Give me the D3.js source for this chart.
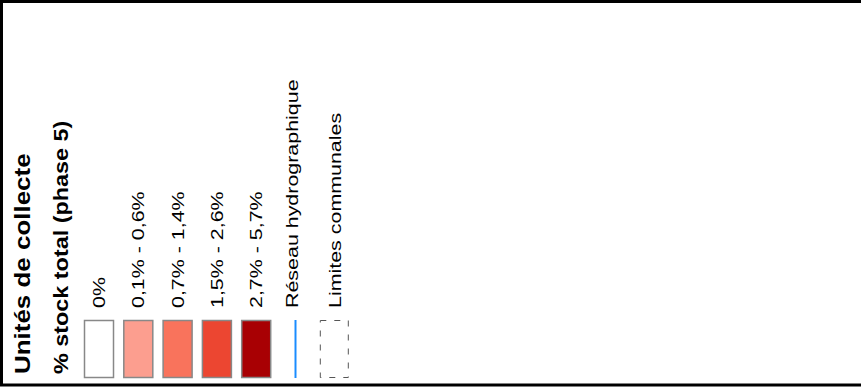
<!DOCTYPE html>
<html><head><meta charset="utf-8">
<script src="https://cdn.jsdelivr.net/npm/d3@7"></script>
<style>body{margin:0;background:#fff}svg{display:block}text{font-family:"Liberation Sans",Arial,sans-serif;fill:#000}</style>
</head><body>
<script>
const title = "Unités de collecte";
const subtitle = "% stock total (phase 5)";
const classLabels = ["0%", "0,1% - 0,6%", "0,7% - 1,4%", "1,5% - 2,6%", "2,7% - 5,7%"];
const classColors = ["#ffffff", "#fc9e8f", "#f9735c", "#ec4631", "#a80003"];
const lineLabels = ["Réseau hydrographique", "Limites communales"];
const lineTypes = ["river", "boundary"];

const W = 861, H = 392;
const svg = d3.select("body").append("svg").attr("width", W).attr("height", H);

// frame
svg.append("rect").attr("x", 1.5).attr("y", 1.5).attr("width", W + 10).attr("height", 383.5)
  .attr("fill", "#fff").attr("stroke", "#000").attr("stroke-width", 3);

const items = classLabels.map((l, i) => ({label: l, type: "swatch", color: classColors[i]}))
  .concat(lineLabels.map((l, i) => ({label: l, type: lineTypes[i]})));

const x = d3.scaleLinear().domain([0, items.length - 1]).range([84, 84 + 39.3 * (items.length - 1)]);
const y = d3.scaleLinear().domain([0, 1]).range([378, 320]);
const sw = 30;

function rotText(g, tx, ty, txt, size, weight, stretch) {
  g.append("text").attr("transform", `translate(${tx},${ty}) rotate(-90) scale(${stretch},1)`)
    .attr("font-size", size).attr("font-weight", weight).text(txt);
}

rotText(svg, 30, 374, title, 22, "bold", 1.18);
rotText(svg, 68, 374, subtitle, 19.5, "bold", 1.2);

const g = svg.selectAll("g.item").data(items).join("g").attr("class", "item");
g.each(function(d, i) {
  const s = d3.select(this);
  const x0 = x(i);
  if (d.type === "swatch") {
    s.append("rect").attr("x", x0 + 0.5).attr("y", y(1) + 0.5).attr("width", sw - 1).attr("height", y(0) - y(1) - 1)
      .attr("fill", d.color).attr("stroke", "#888").attr("stroke-width", 1.5);
  } else if (d.type === "river") {
    s.append("line").attr("x1", x0 + 15).attr("x2", x0 + 15).attr("y1", y(1)).attr("y2", y(0))
      .attr("stroke", "#1a8cff").attr("stroke-width", 2);
  } else {
    s.append("rect").attr("x", x0 + 0.5).attr("y", y(1) + 0.5).attr("width", sw - 2).attr("height", y(0) - y(1) - 1)
      .attr("fill", "none").attr("stroke", "#555").attr("stroke-width", 1).attr("stroke-dasharray", "6,8");
  }
  const off = d.type === "river" ? 17 : 21;
  rotText(s, x0 + off, 308, d.label, 17, "normal", 1.26);
});
</script>
</body></html>
